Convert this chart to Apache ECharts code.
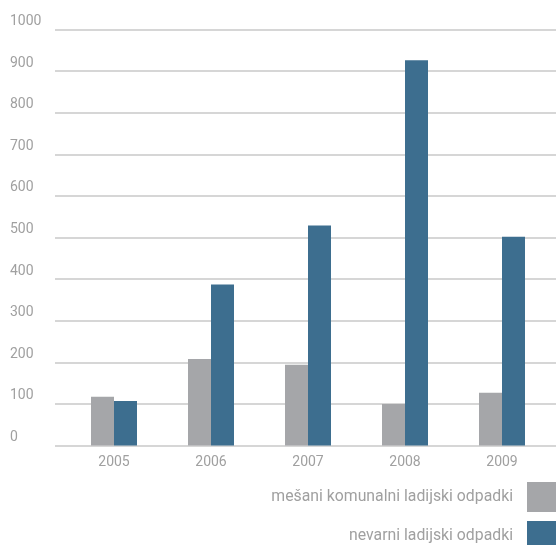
<!DOCTYPE html>
<html>
<head>
<meta charset="utf-8">
<script src="https://cdn.jsdelivr.net/npm/echarts@6/dist/echarts.min.js"></script>
<style>
  html, body { margin: 0; padding: 0; background: #fff; }
  #chart { width: 556px; height: 545px; }
</style>
</head>
<body>
<div id="chart"></div>
<script>
// Ship waste quantities by year
const years = ['2005', '2006', '2007', '2008', '2009'];
const mixedWaste = [117, 208, 194, 100, 127];
const hazardousWaste = [107, 387, 529, 926, 502];
const seriesNames = ['mešani komunalni ladijski odpadki', 'nevarni ladijski odpadki'];
const yTicks = { min: 0, max: 1000, step: 100 };

const FONT = 'Roboto, "Noto Sans", sans-serif';
const TEXT = '#a0a0a0';

const chart = echarts.init(document.getElementById('chart'), null, { renderer: 'canvas' });

// one legend block per series, stacked at the bottom right
function legendFor(name, top) {
  return {
    orient: 'vertical',
    right: 0,
    top: top,
    padding: 0,
    align: 'right',
    itemWidth: 29,
    itemHeight: 30,
    icon: 'rect',
    textStyle: { color: TEXT, fontSize: 15.8, fontFamily: FONT, padding: [0, 9, 0, 0] },
    data: [name]
  };
}

chart.setOption({
  animation: false,
  textStyle: { fontFamily: FONT },
  grid: [
    // full-width grid carrying the horizontal rules and value labels
    { left: 55, right: 0, top: 29.5, bottom: 99.5 },
    // bar grid
    { left: 65.5, right: 5.5, top: 29.5, bottom: 99.5 }
  ],
  legend: [legendFor(seriesNames[0], 482), legendFor(seriesNames[1], 521)],
  xAxis: [
    { gridIndex: 0, type: 'value', show: false, min: 0, max: 1 },
    {
      gridIndex: 1,
      type: 'category',
      data: years,
      axisLine: { show: false },
      axisTick: { show: false },
      axisLabel: { color: TEXT, fontSize: 14, fontFamily: FONT, margin: 10 }
    }
  ],
  yAxis: [
    {
      gridIndex: 0,
      type: 'value',
      min: yTicks.min,
      max: yTicks.max,
      interval: yTicks.step,
      axisLine: { show: false },
      axisTick: { show: false },
      splitLine: { lineStyle: { color: '#c8c8c8', width: 1.5 } },
      axisLabel: {
        color: TEXT,
        fontSize: 14,
        fontFamily: FONT,
        align: 'left',
        margin: 45,
        verticalAlign: 'bottom',
        lineHeight: 16,
        formatter: v => String(v)
      }
    },
    {
      gridIndex: 1,
      type: 'value',
      min: yTicks.min,
      max: yTicks.max,
      show: false
    }
  ],
  series: [
    {
      name: seriesNames[0],
      type: 'bar',
      xAxisIndex: 1,
      yAxisIndex: 1,
      data: mixedWaste,
      barWidth: 23,
      barGap: '0%',
      itemStyle: { color: '#a5a6a9' }
    },
    {
      name: seriesNames[1],
      type: 'bar',
      xAxisIndex: 1,
      yAxisIndex: 1,
      data: hazardousWaste,
      barWidth: 23,
      barGap: '0%',
      itemStyle: { color: '#3d6e8f' }
    }
  ]
});
</script>
</body>
</html>
